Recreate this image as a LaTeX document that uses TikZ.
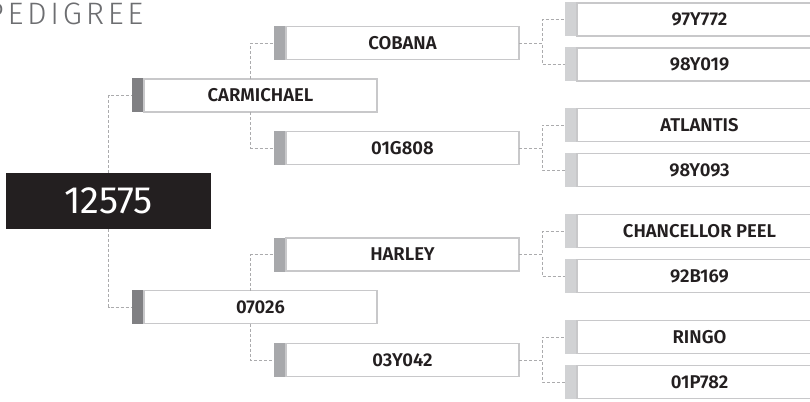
\documentclass[tikz,border=0pt]{standalone}
\usepackage{fontspec}
\setmainfont{Fira Sans}
\newfontfamily\namefont{Fira Sans SemiBold}
\newfontfamily\titlefont[LetterSpace=12]{Fira Sans Light}
\usetikzlibrary{positioning}
\definecolor{ink}{HTML}{231F20}
\definecolor{rim}{HTML}{C8C8CA}
\definecolor{tabdark}{HTML}{808083}
\definecolor{tabmid}{HTML}{A7A8AB}
\definecolor{tablight}{HTML}{D1D2D4}
\definecolor{linkgray}{HTML}{ABABAD}
\definecolor{titlegray}{HTML}{6D6E71}
\tikzset{
  tabbar/.style={minimum width=12pt,minimum height=34pt,inner sep=0pt,outer sep=0pt},
  namebox/.style={draw=rim,line width=1.2pt,fill=white,minimum width=233pt,minimum height=33pt,
    inner sep=0pt,outer sep=0pt,text=ink,font=\namefont\fontsize{18.5}{18.5}\selectfont},
  link/.style={draw=linkgray,line width=0.8pt,dash pattern=on 3pt off 2pt},
}

\begin{document}
\begin{tikzpicture}[x=1pt,y=-1pt]
	\useasboundingbox (0,0) rectangle (810,401);
	\node[anchor=base west,inner sep=0pt,text=titlegray,font=\titlefont\fontsize{31}{31}\selectfont] (title) at (-14,25) {PEDIGREE};
	\node[fill=ink,minimum width=205pt,minimum height=56pt,inner sep=0pt,text=white,font=\fontsize{38}{38}\selectfont] (root) at (108.5,201) {12575};
	% parents
	\node[tabbar,fill=tabdark] (carm-tab) at (138,95.5) {};
	\node[namebox,right=0pt of carm-tab] (carm) {CARMICHAEL};
	\node[tabbar,fill=tabdark] (s07026-tab) at (138,307) {};
	\node[namebox,right=0pt of s07026-tab] (s07026) {07026};
	% grandparents
	\node[tabbar,fill=tabmid] (cobana-tab) at (280,43) {};
	\node[namebox,right=0pt of cobana-tab] (cobana) {COBANA};
	\node[tabbar,fill=tabmid] (g01g808-tab) at (280,148) {};
	\node[namebox,right=0pt of g01g808-tab] (g01g808) {01G808};
	\node[tabbar,fill=tabmid] (harley-tab) at (280,254.5) {};
	\node[namebox,right=0pt of harley-tab] (harley) {HARLEY};
	\node[tabbar,fill=tabmid] (g03y042-tab) at (280,360) {};
	\node[namebox,right=0pt of g03y042-tab] (g03y042) {03Y042};
	% great-grandparents
	\foreach \nm/\yy/\txt in {a97y772/19.5/97Y772,a98y019/64.5/98Y019,atlantis/125/ATLANTIS,a98y093/170/98Y093,
		chancellor/231/CHANCELLOR PEEL,a92b169/276/92B169,ringo/337/RINGO,a01p782/382/01P782}{
		\node[tabbar,fill=tablight] (\nm-tab) at (571,\yy) {};
		\node[namebox,minimum width=245pt,right=0pt of \nm-tab] (\nm) {\txt};
	}
	% connectors
	\draw[link] (root.north) |- (carm-tab.west);
	\draw[link] (root.south) |- (s07026-tab.west);
	\draw[link] ([xshift=-10pt]carm.north) |- (cobana-tab.west);
	\draw[link] ([xshift=-10pt]carm.south) |- (g01g808-tab.west);
	\draw[link] ([xshift=-10pt]s07026.north) |- (harley-tab.west);
	\draw[link] ([xshift=-10pt]s07026.south) |- (g03y042-tab.west);
	\foreach \up/\top/\bot in {cobana/a97y772/a98y019,g01g808/atlantis/a98y093,harley/chancellor/a92b169,g03y042/ringo/a01p782}{
		\draw[link] (\up.east) -- ++(23,0) |- (\top-tab.west);
		\draw[link] (\up.east) -- ++(23,0) |- (\bot-tab.west);
	}
\end{tikzpicture}
\end{document}
